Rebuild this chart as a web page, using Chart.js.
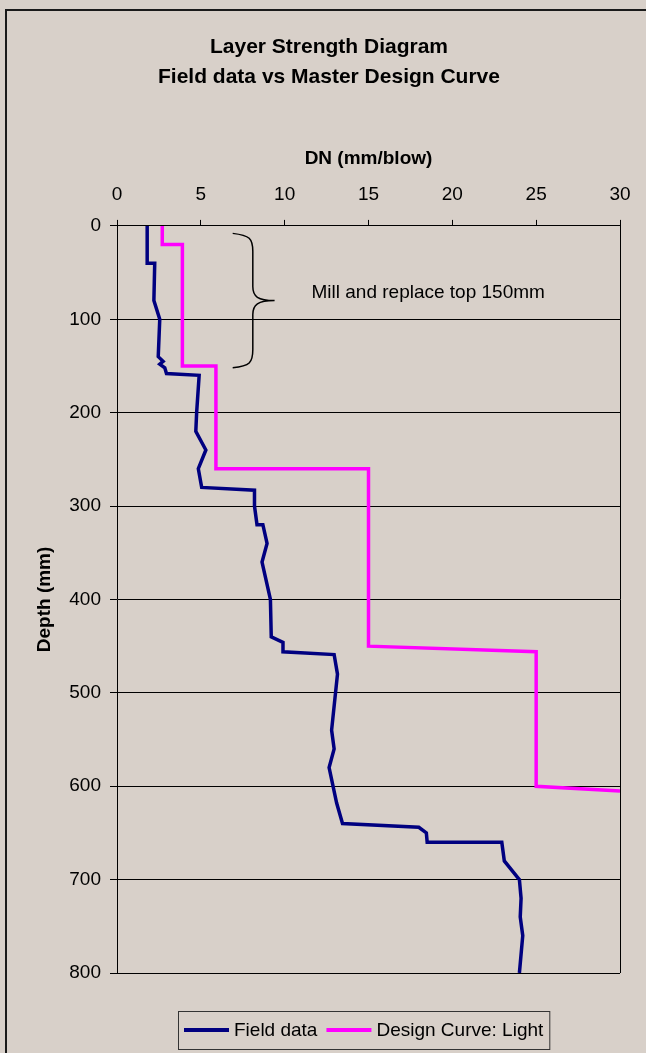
<!DOCTYPE html>
<html>
<head>
<meta charset="utf-8">
<script src="https://cdn.jsdelivr.net/npm/chart.js@4/dist/chart.umd.min.js"></script>
<style>
  html, body { margin: 0; padding: 0; background: #d8d0c9; }
  #wrap { width: 646px; height: 1053px; }
</style>
</head>
<body>
<div id="wrap"><canvas id="chart" width="646" height="1053"></canvas></div>
<script>
// Field data: DN (mm/blow) read against depth (mm)
const fieldDN = [1.8, 1.8, 2.25, 2.2, 2.55, 2.46, 2.75, 2.55, 2.85, 2.95, 4.9, 4.75, 4.7, 5.3, 4.85, 5.05, 8.2, 8.2, 8.35, 8.7, 8.95, 8.65, 9.15, 9.2, 9.9, 9.9, 12.95, 13.15, 12.8, 12.95, 12.65, 13.1, 13.45, 18.0, 18.45, 18.5, 22.95, 23.1, 24.0, 24.1, 24.05, 24.2, 24.0];
const fieldDepth = [0, 40, 40, 80, 100, 140, 145, 148, 152, 158, 160, 200, 220, 240, 260, 280, 283, 300, 320, 320, 340, 360, 400, 440, 446, 456, 459, 480, 540, 560, 580, 618, 640, 644, 650, 660, 660, 680, 700, 720, 740, 760, 800];

// Design curve: Light
const designDN = [2.7, 2.7, 3.9, 3.9, 5.9, 5.9, 15, 15, 25, 25, 30];
const designDepth = [0, 20, 20, 150, 150, 260, 260, 450, 456, 600, 605];

// axis ticks
const dnTicks = [0, 5, 10, 15, 20, 25, 30];
const depthTicks = [0, 100, 200, 300, 400, 500, 600, 700, 800];

// brace note for the top layer
const braceDN = [6.9, 8.1, 9.4];
const braceDepth = [8, 80, 152];
const noteText = "Mill and replace top 150mm";
const notePos = [11.6, 72];

const FONT = "'Liberation Sans', Arial, sans-serif";
const BG = "#d8d0c9";

function toPoints(xs, ys) {
  return xs.map((v, i) => ({ x: v, y: ys[i] }));
}

// Background, outer frame, plot border, brace note and legend box
const decor = {
  id: "decor",
  beforeDraw(chart) {
    const ctx = chart.ctx;
    ctx.save();
    ctx.fillStyle = BG;
    ctx.fillRect(0, 0, chart.width, chart.height);
    ctx.strokeStyle = "#1a1a1a";
    ctx.lineWidth = 2;
    ctx.strokeRect(6, 10, chart.width + 20, chart.height + 20);
    ctx.restore();
  },
  afterDatasetsDraw(chart) {
    const ctx = chart.ctx;
    const x = chart.scales.x, y = chart.scales.y;
    const a = chart.chartArea;
    ctx.save();
    // right edge of the plot
    ctx.strokeStyle = "#000";
    ctx.lineWidth = 1;
    ctx.beginPath();
    ctx.moveTo(Math.round(a.right) + 0.5, a.top);
    ctx.lineTo(Math.round(a.right) + 0.5, a.bottom);
    ctx.stroke();

    // curly brace
    const bx0 = x.getPixelForValue(braceDN[0]);
    const bx1 = x.getPixelForValue(braceDN[1]);
    const bx2 = x.getPixelForValue(braceDN[2]);
    const yT = y.getPixelForValue(braceDepth[0]);
    const yM = y.getPixelForValue(braceDepth[1]);
    const yB = y.getPixelForValue(braceDepth[2]);
    ctx.lineWidth = 1.5;
    ctx.beginPath();
    ctx.moveTo(bx0, yT);
    ctx.bezierCurveTo(bx1 - 3, yT + 2, bx1, yT + 5, bx1, yT + 18);
    ctx.lineTo(bx1, yM - 14);
    ctx.bezierCurveTo(bx1, yM - 4, bx1 + 5, yM, bx2, yM);
    ctx.bezierCurveTo(bx1 + 5, yM, bx1, yM + 4, bx1, yM + 14);
    ctx.lineTo(bx1, yB - 18);
    ctx.bezierCurveTo(bx1, yB - 5, bx1 - 3, yB - 2, bx0, yB);
    ctx.stroke();

    ctx.fillStyle = "#000";
    ctx.font = "19px " + FONT;
    ctx.textBaseline = "middle";
    ctx.textAlign = "left";
    ctx.fillText(noteText, x.getPixelForValue(notePos[0]), y.getPixelForValue(notePos[1]));
    ctx.restore();
  },
  afterDraw(chart) {
    // legend in a framed box under the plot
    const ctx = chart.ctx;
    const sets = chart.data.datasets;
    ctx.save();
    ctx.font = "19px " + FONT;
    const lineLen = 45, pad = 6, gap = 5, between = 9;
    let total = pad * 2;
    sets.forEach((d, i) => {
      total += lineLen + gap + ctx.measureText(d.label).width + (i ? between : 0);
    });
    const left = 178, top = 1011, h = 38;
    ctx.fillStyle = BG;
    ctx.fillRect(left, top, total, h);
    ctx.strokeStyle = "#333";
    ctx.lineWidth = 1;
    ctx.strokeRect(left + 0.5, top + 0.5, total, h);
    let cx = left + pad;
    const cy = top + h / 2;
    sets.forEach((d, i) => {
      if (i) cx += between;
      ctx.strokeStyle = d.borderColor;
      ctx.lineWidth = 4;
      ctx.beginPath();
      ctx.moveTo(cx, cy);
      ctx.lineTo(cx + lineLen, cy);
      ctx.stroke();
      cx += lineLen + gap;
      ctx.fillStyle = "#000";
      ctx.textBaseline = "middle";
      ctx.fillText(d.label, cx, cy + 1);
      cx += ctx.measureText(d.label).width;
    });
    ctx.restore();
  }
};

new Chart(document.getElementById("chart"), {
  type: "line",
  data: {
    datasets: [
      {
        label: "Field data",
        data: toPoints(fieldDN, fieldDepth),
        borderColor: "#000080",
        borderWidth: 3.5,
        pointRadius: 0,
        tension: 0,
      },
      {
        label: "Design Curve: Light",
        data: toPoints(designDN, designDepth),
        borderColor: "#ff00ff",
        borderWidth: 3.5,
        pointRadius: 0,
        tension: 0,
      },
    ],
  },
  options: {
    responsive: false,
    animation: false,
    events: [],
    layout: { padding: { left: 12, top: 9, right: 0, bottom: 80 } },
    plugins: {
      legend: { display: false },
      tooltip: { enabled: false },
      title: {
        display: true,
        text: ["Layer Strength Diagram", "Field data vs Master Design Curve"],
        color: "#000",
        font: { family: FONT, size: 21, weight: "bold", lineHeight: 1.45 },
        padding: { top: 23, bottom: 0 },
      },
    },
    scales: {
      x: {
        type: "linear",
        position: "top",
        min: 0,
        max: 30,
        afterBuildTicks: (s) => { s.ticks = dnTicks.map((v) => ({ value: v })); },
        afterFit: (s) => { s.height = 133; },
        grid: { drawOnChartArea: false, color: "#000", tickLength: 6 },
        border: { color: "#000", width: 1 },
        ticks: { color: "#000", font: { family: FONT, size: 19 }, padding: 14, maxRotation: 0 },
        title: {
          display: true,
          text: "DN (mm/blow)",
          color: "#000",
          font: { family: FONT, size: 19, weight: "bold" },
          padding: { top: 54, bottom: 0 },
        },
      },
      y: {
        type: "linear",
        reverse: true,
        min: 0,
        max: 800,
        afterBuildTicks: (s) => { s.ticks = depthTicks.map((v) => ({ value: v })); },
        afterFit: (s) => { s.width = 105; },
        grid: { color: "#000", tickLength: 7 },
        border: { color: "#000", width: 1 },
        ticks: { color: "#000", font: { family: FONT, size: 19 }, padding: 9 },
        title: {
          display: true,
          text: "Depth (mm)",
          color: "#000",
          font: { family: FONT, size: 19, weight: "bold" },
          padding: { top: 21, bottom: 0 },
        },
      },
      yRight: {
        position: "right",
        display: true,
        afterFit: (s) => { s.width = 26; },
        grid: { display: false },
        border: { display: false },
        ticks: { display: false },
      },
    },
  },
  plugins: [decor],
});
</script>
</body>
</html>
